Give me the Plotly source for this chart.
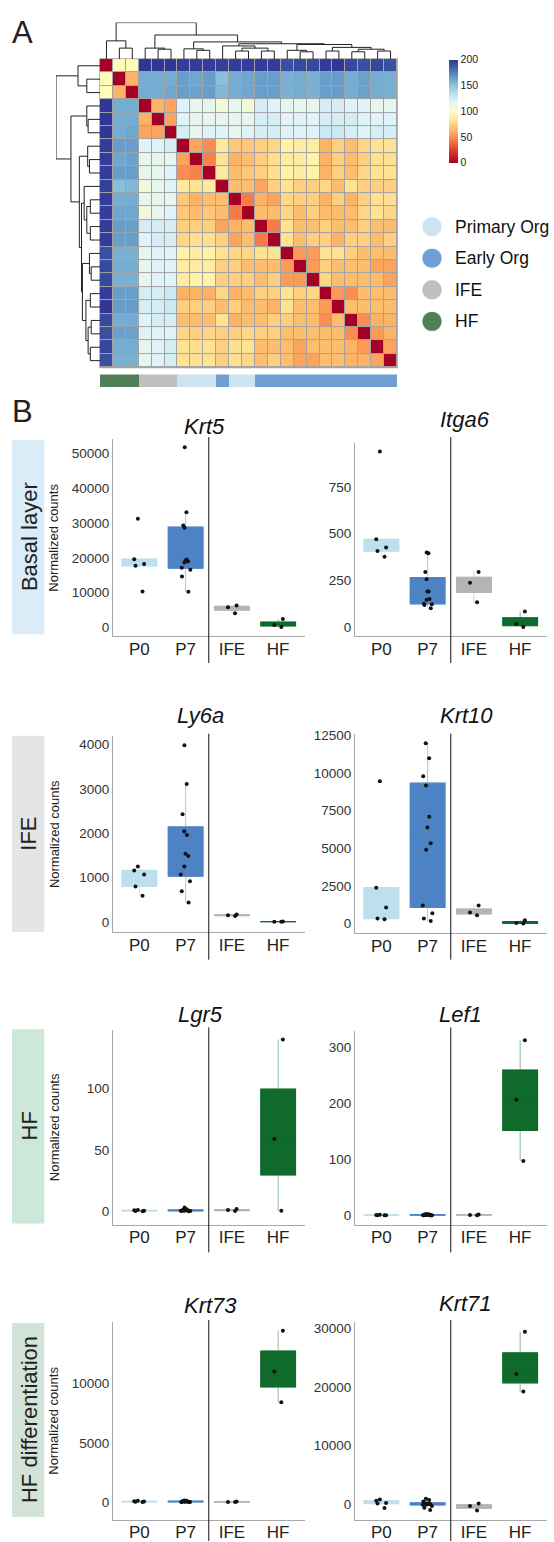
import numpy as np
import plotly.graph_objects as go

W, H = 554, 1542
FONT = "Liberation Sans, Arial, sans-serif"

# ---------------- DATA: sample-distance heatmap ----------------
sample_groups = ["HF", "HF", "HF", "IFE", "IFE", "IFE",
                 "Primary Org", "Primary Org", "Primary Org", "Early Org",
                 "Primary Org", "Primary Org"] + ["Early Org"] * 11

# upper triangle of the (symmetric) distance matrix, row i holds columns i+1..22
dist_upper = [
    [98, 98, 200, 200, 200, 198, 198, 198, 197, 198, 198, 198, 198, 192, 194, 194, 198, 200, 194, 192, 195, 192],
    [62, 160, 160, 160, 165, 162, 165, 152, 160, 162, 165, 165, 158, 160, 158, 165, 166, 160, 164, 160, 158],
    [160, 160, 162, 165, 164, 165, 155, 160, 162, 165, 165, 158, 160, 158, 165, 166, 160, 164, 160, 158],
    [62, 57, 120, 115, 116, 110, 116, 110, 124, 120, 116, 116, 116, 124, 124, 120, 120, 116, 116],
    [57, 120, 116, 116, 116, 116, 116, 124, 124, 120, 120, 120, 124, 124, 124, 120, 120, 120],
    [124, 116, 120, 120, 116, 120, 124, 124, 120, 120, 120, 128, 128, 124, 120, 124, 124],
    [57, 50, 86, 70, 70, 73, 76, 92, 88, 88, 62, 73, 66, 76, 82, 82],
    [46, 82, 62, 66, 73, 80, 88, 88, 92, 62, 73, 66, 73, 80, 80],
    [86, 66, 70, 73, 80, 92, 88, 92, 62, 73, 66, 76, 82, 82],
    [66, 66, 57, 73, 82, 73, 73, 76, 66, 82, 73, 73, 73],
    [44, 62, 57, 76, 73, 73, 62, 73, 62, 73, 80, 80],
    [66, 66, 76, 66, 73, 66, 66, 66, 76, 82, 76],
    [44, 82, 66, 66, 73, 66, 66, 73, 66, 66],
    [82, 66, 73, 73, 62, 73, 73, 66, 73],
    [54, 54, 82, 82, 73, 66, 66, 66],
    [54, 73, 66, 66, 66, 57, 57],
    [76, 66, 66, 66, 66, 57],
    [54, 50, 66, 66, 66],
    [66, 66, 66, 66],
    [50, 62, 62],
    [54, 62],
    [57],
]

# hierarchical clustering tree (height, left, right); leaves = sample order
sample_tree = (1.0,
               (0.50, 0, (0.30, 1, 2)),
               (0.66,
                (0.30, 3, (0.27, 4, 5)),
                (0.47,
                 (0.28, 6, (0.24, 7, 8)),
                 (0.42,
                  (0.36, 9, (0.30, (0.22, 10, 11), (0.22, 12, 13))),
                  (0.40, (0.24, 14, (0.20, 15, 16)),
                   (0.32, (0.22, 17, 18), (0.27, (0.20, 19, 20), (0.22, 21, 22))))))))

legend_groups = ["Primary Org", "Early Org", "IFE", "HF"]
legend_colors = ["#cde4f0", "#729fd3", "#c0bfbd", "#4e7f57"]
cbar_ticks = [0, 50, 100, 150, 200]
rdylbu = ["#a50026", "#d73027", "#f46d43", "#fdae61", "#fee090", "#ffffbf",
          "#e0f3f8", "#abd9e9", "#74add1", "#4575b4", "#313695"]

# ---------------- DATA: boxplots ----------------
categories = ["P0", "P7", "IFE", "HF"]
box_fill = ["#bddfee", "#4d82c4", "#b4b4b2", "#0f6a2c"]
box_whisker = ["#cfe7f3", "#a8c6ea", "#d2d2d2", "#8fb998"]

krt5 = {"P0": [31200, 19600, 18200, 17700, 10300],
        "P7": [51700, 33100, 29300, 28650, 19500, 19200, 18940, 18660, 17140, 16570, 14660, 10290],
        "IFE": [6280, 5800, 4090],
        "HF": [2400, 700, 150]}
itga6 = {"P0": [940, 470, 426, 407, 377],
         "P7": [400, 395, 295, 256, 190, 190, 151, 147, 125, 123, 119, 101],
         "IFE": [295, 238, 133],
         "HF": [84, 16, 0]}
ly6a = {"P0": [1250, 1160, 1070, 800, 590],
        "P7": [3985, 3110, 2430, 2045, 1960, 1535, 1485, 1250, 1070, 915, 690, 435],
        "IFE": [165, 150, 130],
        "HF": [8, 3, 0]}
krt10 = {"P0": [9460, 2380, 1060, 330, 290],
         "P7": [11970, 10980, 9790, 9170, 7100, 6375, 5340, 4900, 1190, 690, 330, 160],
         "IFE": [1190, 730, 555],
         "HF": [225, 30, 0]}
lgr5 = {"P0": [1.2, 0.9, 0.6, 0.4, 0.2],
        "P7": [3.2, 1.8, 1.5, 1.2, 1.0, 0.9, 0.8, 0.6, 0.5, 0.4, 0.3, 0.1],
        "IFE": [2.0, 1.2, 0.3],
        "HF": [140, 59, 0.5]}
lef1 = {"P0": [1.5, 1.0, 0.6, 0.4, 0.2],
        "P7": [2.5, 2.0, 1.8, 1.5, 1.2, 1.0, 0.8, 0.7, 0.5, 0.4, 0.3, 0.1],
        "IFE": [1.8, 1.0, 0.4],
        "HF": [312, 206, 97]}
krt73 = {"P0": [120, 80, 50, 30, 10],
         "P7": [150, 120, 100, 80, 60, 50, 40, 30, 20, 15, 10, 5],
         "IFE": [60, 20, 5],
         "HF": [14480, 11030, 8430]}
krt71 = {"P0": [800, 560, 200, 100, -650],
         "P7": [900, 700, 450, 150, 80, 30, 0, -40, -100, -300, -600, -1000],
         "IFE": [100, -300, -1100],
         "HF": [29400, 22200, 19200]}

row_labels = ["Basal layer", "IFE", "HF", "HF differentiation"]
row_label_colors = ["#d9ecf8", "#e5e5e5", "#cce8d9", "#d3e3d8"]
y_title = "Normalized counts"

# ---------------- helpers ----------------
def px(x):
    return x / W


def py(y):
    return 1 - y / H


n = len(sample_groups)
z = np.zeros((n, n))
for i, row in enumerate(dist_upper):
    for k, v in enumerate(row):
        j = i + 1 + k
        z[i, j] = v
        z[j, i] = v


def dendro(node):
    if isinstance(node, int):
        return float(node), 0.0, []
    h, l, r = node
    pl, hl, sl = dendro(l)
    pr, hr, sr = dendro(r)
    segs = sl + sr + [((pl, hl), (pl, h)), ((pl, h), (pr, h)), ((pr, h), (pr, hr))]
    return (pl + pr) / 2, h, segs


_, _, segments = dendro(sample_tree)

fig = go.Figure()

# ---------------- heatmap ----------------
cs = [[i / 10, c] for i, c in enumerate(rdylbu)]
fig.add_trace(go.Heatmap(
    z=z, x=list(range(n)), y=list(range(n)), colorscale=cs, zmin=0, zmax=200,
    xgap=1, ygap=1, xaxis="x", yaxis="y", hoverinfo="skip",
    colorbar=dict(x=px(449), xanchor="left", y=py(54), yanchor="top",
                  len=103, lenmode="pixels", thickness=9, thicknessmode="pixels",
                  outlinewidth=0, tickvals=cbar_ticks, ticks="", xpad=0, ypad=0,
                  tickfont=dict(size=10.5, color="#222", family=FONT))))

HM_X = (100, 397)
HM_Y = (53.3, 363)

# top dendrogram
tx, ty = [], []
for (a, b) in segments:
    tx += [a[0], b[0], None]
    ty += [a[1], b[1], None]
fig.add_trace(go.Scatter(x=tx, y=ty, mode="lines", line=dict(color="#222", width=1),
                         xaxis="x2", yaxis="y2", hoverinfo="skip", showlegend=False,
                         cliponaxis=False))
# left dendrogram
fig.add_trace(go.Scatter(x=ty, y=tx, mode="lines", line=dict(color="#222", width=1),
                         xaxis="x3", yaxis="y3", hoverinfo="skip", showlegend=False,
                         cliponaxis=False))

# annotation bar
gidx = [legend_groups.index(g) for g in sample_groups]
ann_cs = []
for k, c in enumerate(legend_colors):
    lo = max(0, (k - 0.5) / 3)
    hi = min(1, (k + 0.5) / 3)
    ann_cs += [[lo, c], [hi, c]]
fig.add_trace(go.Heatmap(z=[gidx], x=list(range(n)), y=[0], colorscale=ann_cs, zmin=0, zmax=3,
                         showscale=False, xaxis="x4", yaxis="y4", hoverinfo="skip"))

noax = dict(showgrid=False, zeroline=False, showticklabels=False, showline=False,
            ticks="", fixedrange=True)
layout_axes = {
    "xaxis": dict(domain=[px(HM_X[0]), px(HM_X[1])], range=[-0.5, n - 0.5], anchor="y", **noax),
    "yaxis": dict(domain=[py(HM_Y[1]), py(HM_Y[0])], range=[n - 0.5, -0.5], anchor="x", **noax),
    "xaxis2": dict(domain=[px(HM_X[0]), px(HM_X[1])], range=[-0.5, n - 0.5], anchor="y2", **noax),
    "yaxis2": dict(domain=[py(HM_Y[0]), py(16.7)], range=[0, 1], anchor="x2", **noax),
    "xaxis3": dict(domain=[px(56), px(HM_X[0])], range=[1, 0], anchor="y3", **noax),
    "yaxis3": dict(domain=[py(HM_Y[1]), py(HM_Y[0])], range=[n - 0.5, -0.5], anchor="x3", **noax),
    "xaxis4": dict(domain=[px(HM_X[0]), px(HM_X[1])], range=[-0.5, n - 0.5], anchor="y4", **noax),
    "yaxis4": dict(domain=[py(382.7), py(370)], range=[-0.5, 0.5], anchor="x4", **noax),
}

shapes = [dict(type="rect", xref="paper", yref="paper",
               x0=px(HM_X[0] - 0.8), x1=px(HM_X[1] + 0.8),
               y0=py(HM_Y[1] + 0.8), y1=py(HM_Y[0] - 0.8),
               fillcolor="#a3a3a3", line=dict(width=0), layer="below")]
annotations = []


def ann(text, x, y, size, color="#222", angle=0, xanchor="center"):
    return dict(text=text, x=px(x), y=py(y), xref="paper", yref="paper",
                xanchor=xanchor, yanchor="middle", showarrow=False, textangle=angle,
                font=dict(size=size, color=color, family=FONT))


# legend
for k, (g, c) in enumerate(zip(legend_groups, legend_colors)):
    cy = 221.7 + k * 31.7
    shapes.append(dict(type="circle", xref="paper", yref="paper",
                       x0=px(422), x1=px(442), y0=py(cy + 10), y1=py(cy - 10),
                       fillcolor=c, line=dict(color="rgba(255,255,255,0.6)", width=1)))
    annotations.append(ann(g, 453, cy, 17.5, "#111", xanchor="left"))

# panel letters
annotations.append(ann("A", 22.7, 26.7, 31))
annotations.append(ann("B", 22.5, 407, 31))

# ---------------- box plot panels ----------------
panels = [
    ("Krt5", krt5, (113, 305), (435, 633.3), [-2570, 54090], [0, 10000, 20000, 30000, 40000, 50000], (204, 422.7)),
    ("Itga6", itga6, (355, 547), (439, 633.3), [-50, 986], [0, 250, 500, 750], (465, 415)),
    ("Ly6a", ly6a, (113, 305), (733, 930.7), [-240, 4202], [0, 1000, 2000, 3000, 4000], (200, 713)),
    ("Krt10", krt10, (355, 547), (731.7, 931.7), [-661, 12566], [0, 2500, 5000, 7500, 10000, 12500], (466, 713)),
    ("Lgr5", lgr5, (113, 305), (1028.3, 1224.3), [-10.8, 148], [0, 50, 100], (200, 1012.7)),
    ("Lef1", lef1, (355, 547), (1030, 1224.3), [-16.5, 328], [0, 100, 200, 300], (460, 1013)),
    ("Krt73", krt73, (113, 305), (1321.7, 1520.7), [-1487, 15235], [0, 5000, 10000], (210.7, 1305.7)),
    ("Krt71", krt71, (355, 547), (1321.7, 1520.7), [-2670, 31120], [0, 10000, 20000, 30000], (465, 1303)),
]
sep_extent = [(433, 660), (731, 958), (1026, 1252), (1320, 1542)]
row_boxes = [(436, 631), (733, 930), (1028, 1223), (1323, 1518)]


def box_stats(v):
    a = np.asarray(v, dtype=float)
    q1, med, q3 = np.percentile(a, [25, 50, 75])
    iqr = q3 - q1
    lo = a[a >= q1 - 1.5 * iqr].min()
    hi = a[a <= q3 + 1.5 * iqr].max()
    return q1, med, q3, lo, hi


for k, (gene, data, xd, yd, yr, tv, tpos) in enumerate(panels):
    ai = 5 + k
    xa, ya = f"x{ai}", f"y{ai}"
    for ci, cat in enumerate(categories):
        vals = data[cat]
        q1, med, q3, lo, hi = box_stats(vals)
        fig.add_trace(go.Box(x=[cat], q1=[q1], median=[med], q3=[q3], lowerfence=[lo], upperfence=[hi],
                             width=0.75, whiskerwidth=0, boxpoints=False,
                             fillcolor="rgba(0,0,0,0)", line=dict(color=box_whisker[ci], width=1),
                             xaxis=xa, yaxis=ya, showlegend=False, hoverinfo="skip"))
        fig.add_trace(go.Box(x=[cat], q1=[q1], median=[med], q3=[q3], lowerfence=[q1], upperfence=[q3],
                             width=0.75, whiskerwidth=0, boxpoints=False,
                             fillcolor=box_fill[ci], line=dict(color=box_fill[ci], width=1.2),
                             xaxis=xa, yaxis=ya, showlegend=False, hoverinfo="skip"))
    for ci, cat in enumerate(categories):
        vals = data[cat]
        fig.add_trace(go.Box(x=[cat] * len(vals), y=vals, boxpoints="all", jitter=0.35, pointpos=0,
                             width=0.75, whiskerwidth=0,
                             fillcolor="rgba(0,0,0,0)", line=dict(color="rgba(0,0,0,0)", width=0.5),
                             marker=dict(color="#111", size=4, line=dict(width=0)),
                             xaxis=xa, yaxis=ya, showlegend=False, hoverinfo="skip"))
    layout_axes[f"xaxis{ai}"] = dict(
        domain=[px(xd[0]), px(xd[1])], anchor=ya, type="category",
        categoryorder="array", categoryarray=categories, range=[-0.57, 3.58],
        showline=True, linecolor="#a8a8a8", linewidth=1, ticks="", showgrid=False,
        zeroline=False, fixedrange=True, ticklabelstandoff=-3,
        tickfont=dict(size=17, color="#222", family=FONT))
    layout_axes[f"yaxis{ai}"] = dict(
        domain=[py(yd[1]), py(yd[0])], anchor=xa, range=yr, tickvals=tv, tickformat="d",
        showline=True, linecolor="#a8a8a8", linewidth=1, ticks="", showgrid=False,
        zeroline=False, fixedrange=True,
        tickfont=dict(size=13.5, color="#333", family=FONT))
    row = k // 2
    shapes.append(dict(type="line", xref=xa, yref="paper", x0=1.5, x1=1.5,
                       y0=py(sep_extent[row][1]), y1=py(sep_extent[row][0]),
                       line=dict(color="#111", width=1), layer="above"))
    annotations.append(ann(f"<i>{gene}</i>", tpos[0], tpos[1], 22, "#111"))
    if k % 2 == 0:
        annotations.append(ann(y_title, 54, (yd[0] + yd[1]) / 2, 13, "#222", angle=-90))

for (lab, col, (y0, y1)) in zip(row_labels, row_label_colors, row_boxes):
    shapes.append(dict(type="rect", xref="paper", yref="paper", x0=px(12), x1=px(44.3),
                       y0=py(y1), y1=py(y0), fillcolor=col, line=dict(width=0), layer="below"))
    annotations.append(ann(lab, 29, (y0 + y1) / 2, 22, "#222", angle=-90))

fig.update_layout(
    width=W, height=H, margin=dict(l=0, r=0, t=0, b=0),
    paper_bgcolor="white", plot_bgcolor="rgba(0,0,0,0)",
    showlegend=False, shapes=shapes, annotations=annotations,
    font=dict(family=FONT), boxmode="overlay",
    **layout_axes)

fig.write_html("out.html", config={"displayModeBar": False},
               post_script="document.body.style.margin='0';document.body.style.padding='0';")
